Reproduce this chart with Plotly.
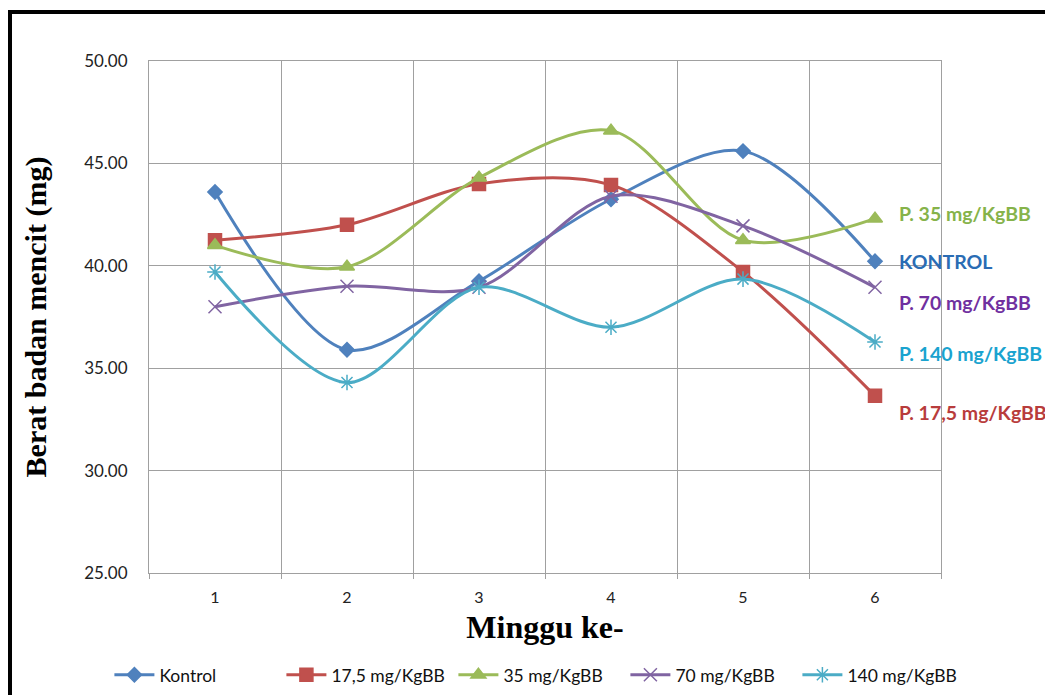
import plotly.graph_objects as go

weeks = ["1", "2", "3", "4", "5", "6"]
kontrol = [43.60, 35.90, 39.25, 43.25, 45.60, 40.22]
p17_5 = [41.25, 42.00, 44.00, 43.95, 39.70, 33.65]
p35 = [41.00, 39.95, 44.30, 46.60, 41.25, 42.30]
p70 = [38.00, 39.00, 38.95, 43.40, 41.95, 38.95]
p140 = [39.70, 34.30, 38.95, 37.00, 39.35, 36.28]

series_names = ["Kontrol", "17,5 mg/KgBB", "35 mg/KgBB", "70 mg/KgBB", "140 mg/KgBB"]
series_values = [kontrol, p17_5, p35, p70, p140]
colors = ["#4F81BD", "#C0504D", "#9BBB59", "#8064A2", "#4BACC6"]
symbols = ["diamond", "square", "triangle-up", "x-thin-open", "asterisk-open"]
sizes = [11, 13, 13, 13, 13]

end_labels = ["P. 35 mg/KgBB", "KONTROL", "P. 70 mg/KgBB", "P. 140 mg/KgBB", "P. 17,5 mg/KgBB"]
end_label_colors = ["#86B34A", "#2A6CB4", "#7030A0", "#1AA3CF", "#B83C3C"]
end_label_y = [42.55, 40.23, 38.22, 35.74, 32.82]

fig = go.Figure()
for name, vals, c, s, sz in zip(series_names, series_values, colors, symbols, sizes):
    fig.add_trace(go.Scatter(
        x=weeks, y=vals, name=name, mode="lines+markers",
        line=dict(color=c, width=3, shape="spline", smoothing=0.9),
        marker=dict(symbol=s, size=sz, color=c, line=dict(color=c, width=1.5)),
    ))

for txt, col, yv in zip(end_labels, end_label_colors, end_label_y):
    fig.add_annotation(x=0.944, xref="paper", y=yv, yref="y", text="<b>%s</b>" % txt,
                       showarrow=False, xanchor="left", yanchor="middle",
                       font=dict(family="Lato, sans-serif", size=19.5, color=col))

# outer frame
fig.add_shape(type="rect", xref="paper", yref="paper",
              x0=-0.1755, x1=1.2, y0=-0.4, y1=1.0955,
              line=dict(color="black", width=4), fillcolor="rgba(0,0,0,0)")

fig.update_layout(
    width=1053, height=695,
    margin=dict(l=141, r=120, t=53, b=130, autoexpand=False),
    paper_bgcolor="white", plot_bgcolor="white",
    font=dict(family="Lato, sans-serif", size=16, color="#222222"),
    showlegend=True,
    legend=dict(orientation="h", x=-0.05, xanchor="left",
                y=-0.199, yanchor="middle",
                font=dict(family="Lato, sans-serif", size=17.5, color="#111111"),
                itemwidth=40, tracegroupgap=0, entrywidthmode="pixels", entrywidth=117),
)
fig.update_xaxes(
    type="category", range=[-0.5, 5.5], tickson="boundaries", showgrid=True,
    gridcolor="#A0A0A0", gridwidth=1,
    showline=True, linecolor="#A0A0A0", mirror=True, ticks="outside", ticklen=5, tickcolor="#A0A0A0",
    ticklabelstandoff=10, automargin=False,
    tickfont=dict(family="Lato, sans-serif", size=16, color="#222222"),
    title=dict(text="<b>Minggu ke-</b>", standoff=10,
               font=dict(family="Liberation Serif, Times New Roman, serif", size=32, color="black")),
)
fig.update_yaxes(
    range=[25, 50], dtick=5, tickformat=".2f", showgrid=True, gridcolor="#A0A0A0", gridwidth=1,
    showline=True, linecolor="#A0A0A0", mirror=True, zeroline=False,
    ticks="outside", ticklen=5, tickcolor="white", ticklabelstandoff=12, automargin=False,
    tickfont=dict(family="Lato, sans-serif", size=17, color="#222222"),
    title=dict(text="<b>Berat badan mencit (mg)</b>", standoff=28,
               font=dict(family="Liberation Serif, Times New Roman, serif", size=30, color="black")),
)

fig.write_html("out.html")
